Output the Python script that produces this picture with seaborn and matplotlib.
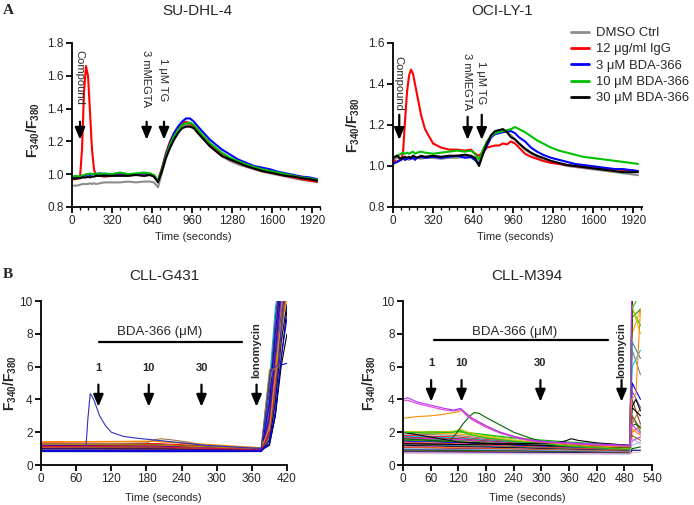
import numpy as np
import pandas as pd
import matplotlib
matplotlib.use('Agg')
import matplotlib.pyplot as plt
from matplotlib.ticker import MultipleLocator, FormatStrFormatter
from matplotlib.lines import Line2D
import seaborn as sns

sns.set_theme(style='ticks')
plt.rcParams['font.family'] = ['Liberation Sans', 'DejaVu Sans']
plt.rcParams['mathtext.fontset'] = 'custom'
plt.rcParams['mathtext.rm'] = 'Liberation Sans'
plt.rcParams['mathtext.bf'] = 'Liberation Sans:bold'

# ---------------- panel A data (time in s, F340/F380) ----------------
t_a = [0, 32, 64, 80, 96, 112, 128, 144, 160, 176, 192, 224, 256, 320, 384, 448, 512, 576, 624, 656,
       688, 720, 752, 784, 816, 848, 880, 912, 944, 976, 1008, 1056, 1104, 1152, 1200, 1264, 1328,
       1392, 1456, 1520, 1584, 1648, 1712, 1776, 1840, 1904, 1960]

series_names = ['DMSO Ctrl', '12 μg/ml IgG', '3 μM BDA-366', '10 μM BDA-366', '30 μM BDA-366']
series_colors = ['#8c8c8c', '#ff0000', '#0000ff', '#00c000', '#000000']

sudhl_dmso = [0.93, 0.93, 0.935, 0.94, 0.94, 0.94, 0.94, 0.945, 0.94, 0.945, 0.94, 0.945, 0.95, 0.95,
              0.95, 0.955, 0.95, 0.955, 0.955, 0.95,
              0.92, 1.01, 1.10, 1.17, 1.22, 1.26, 1.29, 1.30, 1.30, 1.28, 1.25, 1.21, 1.17, 1.14, 1.11,
              1.08, 1.06, 1.045, 1.03, 1.015, 1.005, 0.995, 0.985, 0.975, 0.965, 0.96, 0.95]
sudhl_igg = [0.97, 0.97, 0.98, 1.15, 1.50, 1.66, 1.60, 1.38, 1.15, 1.03, 0.99, 0.99, 0.985, 0.99, 1.0,
             0.99, 1.0, 0.99, 1.0, 0.985,
             0.96, 1.04, 1.13, 1.20, 1.25, 1.28, 1.31, 1.32, 1.31, 1.29, 1.26, 1.22, 1.18, 1.15, 1.12,
             1.09, 1.07, 1.05, 1.035, 1.02, 1.01, 1.0, 0.99, 0.98, 0.97, 0.96, 0.955]
sudhl_3 = [0.98, 0.98, 0.985, 0.99, 0.99, 0.995, 1.0, 0.995, 1.0, 1.0, 1.0, 1.005, 1.0, 1.0, 1.005, 1.0,
           1.0, 1.005, 1.0, 0.99,
           0.96, 1.03, 1.12, 1.19, 1.25, 1.29, 1.32, 1.34, 1.34, 1.32, 1.29, 1.25, 1.21, 1.18, 1.15,
           1.12, 1.09, 1.07, 1.05, 1.04, 1.03, 1.015, 1.005, 0.995, 0.985, 0.98, 0.97]
sudhl_10 = [0.985, 0.99, 0.985, 0.99, 0.995, 1.0, 1.0, 1.005, 1.0, 1.0, 1.005, 1.0, 1.005, 1.0, 1.01,
            1.0, 1.005, 1.01, 1.005, 0.995,
            0.96, 1.03, 1.11, 1.18, 1.23, 1.27, 1.30, 1.31, 1.315, 1.30, 1.27, 1.23, 1.19, 1.16, 1.13,
            1.10, 1.08, 1.06, 1.045, 1.03, 1.02, 1.01, 1.0, 0.99, 0.98, 0.975, 0.965]
sudhl_30 = [0.97, 0.975, 0.975, 0.98, 0.98, 0.98, 0.985, 0.98, 0.985, 0.985, 0.99, 0.99, 0.99, 0.99,
            0.99, 0.99, 0.995, 0.99, 0.995, 0.985,
            0.95, 1.02, 1.10, 1.16, 1.21, 1.25, 1.28, 1.29, 1.29, 1.28, 1.25, 1.21, 1.17, 1.14, 1.11,
            1.09, 1.07, 1.05, 1.035, 1.02, 1.01, 1.0, 0.99, 0.985, 0.975, 0.97, 0.96]

ocily_dmso = [1.03, 1.04, 1.03, 1.035, 1.03, 1.035, 1.03, 1.035, 1.04, 1.035, 1.04, 1.035, 1.04, 1.04,
              1.035, 1.04, 1.04, 1.045, 1.04, 1.03,
              1.01, 1.06, 1.10, 1.14, 1.16, 1.17, 1.17, 1.165, 1.15, 1.13, 1.11, 1.08, 1.06, 1.045,
              1.035, 1.02, 1.01, 1.0, 0.995, 0.99, 0.985, 0.98, 0.975, 0.97, 0.965, 0.96, 0.955]
ocily_igg = [1.03, 1.02, 1.03, 1.06, 1.22, 1.36, 1.44, 1.47, 1.45, 1.40, 1.35, 1.25, 1.18, 1.11, 1.09,
             1.08, 1.08, 1.075, 1.08, 1.06,
             1.05, 1.07, 1.09, 1.095, 1.10, 1.10, 1.11, 1.105, 1.12, 1.11, 1.09, 1.06, 1.045, 1.035,
             1.025, 1.015, 1.01, 1.005, 1.0, 0.995, 0.99, 0.99, 0.985, 0.985, 0.98, 0.98, 0.975]
ocily_3 = [1.01, 1.02, 1.03, 1.04, 1.03, 1.035, 1.04, 1.035, 1.04, 1.03, 1.04, 1.045, 1.04, 1.045,
           1.04, 1.045, 1.05, 1.04, 1.045, 1.03,
           1.01, 1.06, 1.10, 1.14, 1.155, 1.16, 1.165, 1.17, 1.17, 1.16, 1.14, 1.12, 1.09, 1.07,
           1.055, 1.04, 1.03, 1.02, 1.01, 1.005, 1.0, 0.995, 0.99, 0.985, 0.985, 0.98, 0.975]
ocily_10 = [1.04, 1.05, 1.06, 1.065, 1.06, 1.065, 1.06, 1.065, 1.07, 1.06, 1.065, 1.07, 1.065, 1.06,
            1.065, 1.07, 1.075, 1.07, 1.075, 1.06,
            1.03, 1.08, 1.12, 1.145, 1.16, 1.165, 1.17, 1.175, 1.18, 1.19, 1.18, 1.165, 1.145, 1.125,
            1.11, 1.09, 1.075, 1.065, 1.055, 1.045, 1.04, 1.035, 1.03, 1.025, 1.02, 1.015, 1.01]
ocily_30 = [1.04, 1.05, 1.035, 1.04, 1.045, 1.04, 1.045, 1.04, 1.05, 1.045, 1.04, 1.05, 1.045, 1.05,
            1.045, 1.05, 1.05, 1.055, 1.05, 1.04,
            1.0, 1.06, 1.11, 1.15, 1.17, 1.175, 1.18, 1.165, 1.14, 1.13, 1.11, 1.085, 1.065, 1.05,
            1.04, 1.025, 1.015, 1.005, 1.0, 0.995, 0.99, 0.985, 0.98, 0.975, 0.97, 0.97, 0.97]

# ---------------- panel B data: CLL-G431 single-cell traces ----------------
g431_t = [0, 200, 376, 390, 400, 410, 420]
g431_v0 = [1.42, 1.35, 1.30, 1.28, 1.25, 1.22, 1.20, 1.18, 1.15, 1.12, 1.10, 1.08, 1.05, 1.03,
           1.00, 0.98, 0.96, 0.94, 0.92, 0.90, 0.88, 0.86, 0.84, 0.82, 1.27, 1.13, 0.99, 0.87]
g431_v200 = [1.45, 1.30, 1.24, 1.22, 1.20, 1.17, 1.15, 1.13, 1.11, 1.08, 1.06, 1.05, 1.02, 1.0,
             0.98, 0.96, 0.94, 0.92, 0.90, 0.88, 0.87, 0.85, 0.83, 0.81, 1.22, 1.09, 0.97, 0.86]
g431_v376 = [1.05, 1.02, 1.0, 0.99, 0.98, 0.97, 0.96, 0.95, 0.95, 0.94, 0.93, 0.93, 0.92, 0.91,
             0.90, 0.90, 0.89, 0.88, 0.87, 0.86, 0.85, 0.84, 0.83, 0.82, 0.98, 0.94, 0.89, 0.85]
g431_v390 = [1.5, 2.0, 3.0, 1.3, 2.5, 4.0, 1.8, 2.2, 5.5, 1.4, 3.5, 2.8, 1.6, 2.0, 4.5, 1.2, 3.2,
             2.4, 1.7, 5.0, 2.6, 1.5, 3.8, 2.1, 5.8, 1.9, 2.9, 1.3]
g431_v400 = [4.0, 5.5, 7.0, 3.0, 6.0, 8.5, 4.5, 5.0, 6.0, 3.5, 7.5, 6.5, 4.0, 5.0, 9.0, 3.0, 7.0,
             5.5, 4.2, 9.5, 6.2, 3.8, 8.0, 5.2, 5.9, 4.8, 6.8, 3.2]
g431_v410 = [8.0, 9.5, 11.0, 6.5, 10.5, 12.0, 8.5, 9.0, 6.1, 7.0, 11.5, 10.0, 8.0, 9.0, 12.0, 6.0,
             11.0, 9.5, 8.2, 12.0, 10.2, 7.5, 11.5, 9.0, 8.5, 8.6, 10.8, 6.5]
g431_v420 = [11.0, 12.0, 13.0, 9.5, 12.5, 13.0, 11.0, 11.5, 6.2, 10.5, 13.0, 12.0, 11.0, 12.0, 13.0,
             8.0, 13.0, 12.0, 11.0, 13.0, 12.5, 9.8, 13.0, 11.5, 10.5, 11.0, 12.5, 9.0]
g431_colors = ['#ff8c00', '#ff0000', '#c08040', '#000000', '#00a000', '#ff00ff', '#8b0000',
               '#800080', '#0000ff', '#ffa500', '#008080', '#00c000', '#a0522d', '#ff4040',
               '#006400', '#000000', '#9932cc', '#ff6347', '#2e8b57', '#1e90ff', '#4040ff',
               '#000080', '#0000cd', '#1010a0', '#b8860b', '#dc143c', '#4b0082', '#0000ff']

g431_spike_t = [77, 80, 84, 90, 100, 110, 120, 140, 160, 200, 240, 280, 330, 376, 385, 392, 405, 415]
g431_spike_v = [1.2, 2.8, 4.35, 4.0, 3.0, 2.4, 2.0, 1.75, 1.65, 1.5, 1.35, 1.2, 1.1, 1.0, 3.5, 5.8, 6.1, 10.5]
g431_bump_t = [0, 100, 180, 195, 205, 220, 250, 280, 330, 376, 385, 395, 405, 415]
g431_bump_v = [1.3, 1.3, 1.35, 1.55, 1.6, 1.55, 1.4, 1.2, 1.1, 1.05, 4.0, 5.8, 6.0, 10.5]
g431_orange_t = [0, 100, 190, 250, 300, 376, 390, 402, 415]
g431_orange_v = [1.4, 1.42, 1.45, 1.3, 1.15, 1.05, 2.2, 6.0, 10.5]

# ---------------- panel B data: CLL-M394 single-cell traces ----------------
m394_t = [0, 120, 240, 360, 492, 497, 515]
m394_v0 = [2.0, 2.0, 1.95, 1.9, 1.8, 1.75, 1.7, 1.65, 1.6, 1.55, 1.5, 1.45, 1.4, 1.35, 1.3, 1.25,
           1.2, 1.15, 1.1, 1.05, 1.0, 0.95, 0.9, 0.85, 0.8, 0.75, 0.7, 2.0]
m394_v120 = [2.0, 2.05, 1.9, 1.8, 1.7, 1.65, 1.6, 1.55, 1.5, 1.45, 1.4, 1.35, 1.3, 1.25, 1.2, 1.18,
             1.12, 1.08, 1.05, 1.0, 0.95, 0.92, 0.88, 0.83, 0.78, 0.73, 0.69, 1.4]
m394_v240 = [1.6, 1.65, 1.5, 1.45, 1.4, 1.38, 1.35, 1.3, 1.28, 1.25, 1.22, 1.2, 1.15, 1.12, 1.1,
             1.08, 1.05, 1.0, 0.98, 0.95, 0.92, 0.88, 0.85, 0.8, 0.76, 0.72, 0.68, 1.25]
m394_v360 = [1.35, 1.4, 1.3, 1.25, 1.22, 1.2, 1.18, 1.15, 1.13, 1.1, 1.08, 1.05, 1.03, 1.0, 0.98,
             0.96, 0.94, 0.92, 0.9, 0.88, 0.86, 0.83, 0.8, 0.77, 0.74, 0.7, 0.67, 1.15]
m394_v492 = [1.15, 1.2, 1.12, 1.1, 1.08, 1.06, 1.05, 1.02, 1.0, 0.98, 0.96, 0.94, 0.92, 0.9, 0.88,
             0.86, 0.85, 0.83, 0.82, 0.8, 0.78, 0.76, 0.74, 0.72, 0.7, 0.68, 0.66, 1.05]
m394_v497 = [10.5, 9.5, 8.0, 7.0, 10.5, 6.0, 4.0, 10.5, 3.0, 2.5, 9.0, 5.0, 2.0, 10.5, 1.8, 7.5,
             3.5, 1.5, 2.2, 10.5, 1.2, 4.5, 1.0, 3.0, 0.9, 1.6, 0.75, 10.5]
m394_v515 = [10.5, 8.5, 9.5, 5.5, 10.5, 7.0, 2.5, 10.5, 2.0, 3.5, 9.5, 4.0, 2.4, 10.5, 1.5, 6.5,
             3.0, 1.7, 1.8, 10.5, 1.4, 3.5, 1.1, 2.2, 0.9, 1.3, 0.8, 10.5]
m394_colors = ['#9acd32', '#00c000', '#ffa500', '#808080', '#ff0000', '#00bfff', '#8b4513',
               '#ff00ff', '#2e8b57', '#c08040', '#00a000', '#0000ff', '#ff6347', '#dc143c',
               '#808000', '#4682b4', '#000000', '#9932cc', '#ff8c00', '#b22222', '#87ceeb',
               '#6a5acd', '#006400', '#a0522d', '#000080', '#dda0dd', '#d8bfd8', '#000000']

m394_mag1_t = [0, 10, 30, 60, 90, 110, 125, 135, 150, 180, 210, 240, 270, 300, 360, 420, 492, 496, 515]
m394_mag1_v = [4.0, 4.1, 3.85, 3.65, 3.45, 3.35, 3.45, 3.2, 2.85, 2.4, 2.0, 1.75, 1.55, 1.45, 1.35,
               1.28, 1.2, 10.5, 10.5]
m394_mag2_v = [3.9, 3.95, 3.75, 3.55, 3.35, 3.3, 3.38, 3.1, 2.75, 2.3, 1.95, 1.7, 1.5, 1.4, 1.3,
               1.22, 1.15, 2.5, 1.9]
m394_orange_t = [0, 30, 60, 90, 120, 128, 140, 170, 200, 240, 300, 360, 420, 492, 496, 505, 515]
m394_orange_v = [2.85, 2.95, 3.0, 3.1, 3.25, 3.35, 3.0, 2.5, 2.1, 1.75, 1.4, 1.25, 1.15, 1.1, 4.0, 4.3, 9.5]
m394_dkgreen_t = [0, 60, 100, 115, 130, 145, 155, 165, 180, 200, 240, 280, 300, 360, 420, 492, 496, 505, 515]
m394_dkgreen_v = [1.6, 1.5, 1.45, 1.9, 2.5, 3.0, 3.2, 3.15, 2.9, 2.6, 2.0, 1.6, 1.45, 1.25, 1.15,
                  1.05, 2.4, 2.5, 2.3]
m394_bump_t = [0, 120, 240, 330, 350, 365, 380, 420, 492, 496, 505, 515]
m394_bump_v = [1.3, 1.25, 1.3, 1.35, 1.45, 1.6, 1.5, 1.35, 1.2, 3.5, 4.0, 3.3]
m394_yg_t = [0, 60, 110, 125, 140, 180, 240, 300, 360, 420, 492, 496, 515]
m394_yg_v = [2.05, 2.0, 2.05, 2.2, 2.0, 1.75, 1.5, 1.35, 1.2, 1.1, 1.0, 9.8, 8.0]
m394_gr_v = [2.0, 1.95, 2.0, 2.1, 1.9, 1.65, 1.45, 1.3, 1.15, 1.05, 0.95, 9.5, 10.5]

W, H = 694, 505
fig = plt.figure(figsize=(W / 100, H / 100), dpi=100)


def add_axes_px(x0, x1, y0, y1):
    return fig.add_axes([x0 / W, 1 - y1 / H, (x1 - x0) / W, (y1 - y0) / H])


def style_axis(ax):
    sns.despine(ax=ax)
    for s in ['left', 'bottom']:
        ax.spines[s].set_linewidth(1.3)
        ax.spines[s].set_color('black')
    ax.tick_params(which='major', length=4, width=1.3, labelsize=8.5, pad=2, color='black')
    ax.tick_params(which='minor', length=2.5, width=1.0, color='black')
    ax.grid(False)


def ylabel(ax, xpos, ypos=0.5):
    ax.set_ylabel(r'$\mathbf{F_{340}/F_{380}}$', fontsize=10)
    ax.yaxis.set_label_coords(xpos, ypos)


def xlabel(ax, xpos, ypos):
    ax.set_xlabel('Time (seconds)', fontsize=8)
    ax.xaxis.set_label_coords(xpos, ypos)


def arrow(ax, x, top, tip):
    ax.annotate('', xy=(x, tip), xytext=(x, top),
                arrowprops=dict(arrowstyle='-|>,head_length=0.6,head_width=0.25',
                                mutation_scale=12, lw=1.6, color='black', shrinkA=0, shrinkB=0))


def top_panel(ax, data, xmax, ymax):
    df = pd.DataFrame({'time': np.tile(t_a, len(data)),
                       'ratio': np.concatenate(data),
                       'series': np.repeat(series_names, len(t_a))})
    sns.lineplot(data=df, x='time', y='ratio', hue='series', palette=dict(zip(series_names, series_colors)),
                 estimator=None, sort=False, lw=1.5, legend=False, ax=ax)
    style_axis(ax)
    ax.set_xlim(0, xmax)
    ax.set_ylim(0.8, ymax)
    ax.xaxis.set_major_locator(MultipleLocator(320))
    ax.xaxis.set_minor_locator(MultipleLocator(64))
    ax.yaxis.set_major_locator(MultipleLocator(0.2))
    ax.yaxis.set_major_formatter(FormatStrFormatter('%.1f'))


def trace_frame(t, columns, prefix, specials):
    rows = []
    for i, vals in enumerate(zip(*columns)):
        for tt, vv in zip(t, vals):
            rows.append((f'{prefix}{i}', tt, vv))
    for name, ts, vs in specials:
        for tt, vv in zip(ts, vs):
            rows.append((name, tt, vv))
    return pd.DataFrame(rows, columns=['trace', 'time', 'ratio'])


# ---------------- A: SU-DHL-4 ----------------
ax1 = add_axes_px(72, 320, 43, 207)
top_panel(ax1, [sudhl_dmso, sudhl_igg, sudhl_3, sudhl_10, sudhl_30], 1984, 1.8)
ylabel(ax1, -0.12, 0.47)
xlabel(ax1, 0.49, -0.15)
for x, top, tip, label, ttop in [(64, 1.32, 1.21, 'Compound', 1.76), (597, 1.32, 1.21, '3 mMEGTA', 1.76),
                                 (736, 1.32, 1.21, '1 μM TG', 1.71)]:
    arrow(ax1, x, top, tip)
    ax1.text(x - 6, ttop, label, rotation=270, ha='center', va='top', fontsize=8)

# ---------------- A: OCI-LY-1 ----------------
ax2 = add_axes_px(393, 642, 43, 207)
top_panel(ax2, [ocily_dmso, ocily_igg, ocily_3, ocily_10, ocily_30], 1992, 1.6)
ylabel(ax2, -0.125)
xlabel(ax2, 0.49, -0.15)
for x, top, tip, label, ttop in [(50, 1.25, 1.127, 'Compound', 1.535), (597, 1.24, 1.127, '3 mMEGTA', 1.55),
                                 (710, 1.25, 1.127, '1 μM TG', 1.51)]:
    arrow(ax2, x, top, tip)
    ax2.text(x - 4, ttop, label, rotation=270, ha='center', va='top', fontsize=8)

handles = [Line2D([], [], color=c, lw=2) for c in series_colors]
fig.legend(handles, series_names, loc='upper left', bbox_to_anchor=(571 / W, 1 - 27 / H), frameon=False,
           fontsize=9.4, handlelength=1.35, handletextpad=0.6, labelspacing=0.32, borderaxespad=0,
           borderpad=0)

# ---------------- B: CLL-G431 ----------------
ax3 = add_axes_px(41, 287, 301, 465)
df3 = trace_frame(g431_t, [g431_v0, g431_v200, g431_v376, g431_v390, g431_v400, g431_v410, g431_v420],
                  'g', [('orange', g431_orange_t, g431_orange_v),
                        ('bump', g431_bump_t, g431_bump_v), ('spike', g431_spike_t, g431_spike_v)])
pal3 = {f'g{i}': c for i, c in enumerate(g431_colors)}
pal3.update({'orange': '#ff8c00', 'bump': '#a0784a', 'spike': '#3030c0'})
sns.lineplot(data=df3, x='time', y='ratio', hue='trace', units='trace', palette=pal3, estimator=None,
             sort=False, lw=0.8, legend=False, ax=ax3)
style_axis(ax3)
ax3.set_xlim(0, 420)
ax3.set_ylim(0, 10)
ax3.xaxis.set_major_locator(MultipleLocator(60))
ax3.yaxis.set_major_locator(MultipleLocator(2))
ylabel(ax3, -0.088)
xlabel(ax3, 0.496, -0.17)
ax3.plot([99, 343], [7.52, 7.52], color='black', lw=1.6)
ax3.text(203, 8.13, 'BDA-366 (μM)', ha='center', va='center', fontsize=9.5)
for x, lab in [(98, '1'), (184, '10'), (274, '30')]:
    ax3.text(x, 5.9, lab, ha='center', va='center', fontsize=8, fontweight='bold')
    arrow(ax3, x, 4.9, 3.55)
arrow(ax3, 368, 4.9, 3.55)
ax3.text(368, 5.3, 'Ionomycin', rotation=90, ha='center', va='bottom', fontsize=8, fontweight='bold')

# ---------------- B: CLL-M394 ----------------
ax4 = add_axes_px(403, 652, 301, 465)
df4 = trace_frame(m394_t, [m394_v0, m394_v120, m394_v240, m394_v360, m394_v492, m394_v497, m394_v515],
                  'm', [('yg', m394_yg_t, m394_yg_v), ('gr', m394_yg_t, m394_gr_v),
                        ('bump', m394_bump_t, m394_bump_v), ('dkgreen', m394_dkgreen_t, m394_dkgreen_v),
                        ('orange', m394_orange_t, m394_orange_v), ('mag2', m394_mag1_t, m394_mag2_v),
                        ('mag1', m394_mag1_t, m394_mag1_v)])
pal4 = {f'm{i}': c for i, c in enumerate(m394_colors)}
pal4.update({'yg': '#c8c800', 'gr': '#20c020', 'bump': '#000000', 'dkgreen': '#006400',
             'orange': '#ff8c00', 'mag2': '#e040e0', 'mag1': '#b030ff'})
sns.lineplot(data=df4, x='time', y='ratio', hue='trace', units='trace', palette=pal4, estimator=None,
             sort=False, lw=0.8, legend=False, ax=ax4)
style_axis(ax4)
ax4.set_xlim(0, 540)
ax4.set_ylim(0, 10)
ax4.xaxis.set_major_locator(MultipleLocator(60))
ax4.yaxis.set_major_locator(MultipleLocator(2))
ylabel(ax4, -0.1)
xlabel(ax4, 0.5, -0.17)
ax4.plot([68, 444], [7.62, 7.62], color='black', lw=1.6)
ax4.text(243, 8.13, 'BDA-366 (μM)', ha='center', va='center', fontsize=9.5)
for x, lab in [(61, '1'), (127, '10'), (298, '30')]:
    ax4.text(x, 6.2, lab, ha='center', va='center', fontsize=8, fontweight='bold')
    arrow(ax4, x, 5.18, 3.86)
arrow(ax4, 474, 5.18, 3.86)
ax4.text(474, 5.29, 'Ionomycin', rotation=90, ha='center', va='bottom', fontsize=8, fontweight='bold')

# ---------------- titles and panel letters ----------------
for x, y, t in [(197, 11, 'SU-DHL-4'), (502, 11, 'OCI-LY-1'), (164, 276, 'CLL-G431'), (527, 276, 'CLL-M394')]:
    fig.text(x / W, 1 - y / H, t, ha='center', va='center', fontsize=11)
for y, t in [(10, 'A'), (274, 'B')]:
    fig.text(8 / W, 1 - y / H, t, ha='center', va='center', fontsize=11, fontweight='bold',
             family='Liberation Serif')

fig.savefig('out.png', dpi=100)
